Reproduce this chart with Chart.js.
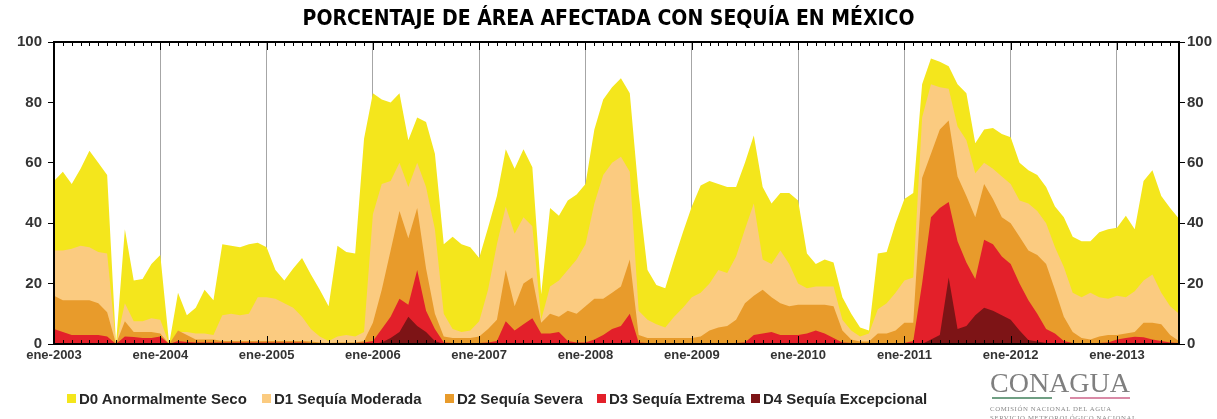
<!DOCTYPE html>
<html>
<head>
<meta charset="utf-8">
<script src="https://cdn.jsdelivr.net/npm/chart.js@4.4.1/dist/chart.umd.min.js"></script>
<style>
  html, body { margin: 0; padding: 0; background: #fff; }
  #wrap { position: relative; width: 1217px; height: 419px; overflow: hidden; }
  #legend { position: absolute; left: 0; top: 389px; width: 1000px; height: 20px;
    font: bold 15px "Liberation Sans", Arial, sans-serif; color: #262626; white-space: nowrap; }
  #legend .item { position: absolute; top: 0; display: flex; align-items: center; height: 18px; }
  #legend .box { width: 9px; height: 9px; margin-right: 3px; }
  #logo { position: absolute; left: 990px; top: 369px; width: 142px; }
  #logo .name { font: 28px "Liberation Serif", "DejaVu Serif", serif; color: #7f7f7f; line-height: 28px; }
  #logo .bars { position: relative; height: 3px; margin-top: 0px; }
  #logo .bars span { position: absolute; top: 0; height: 2px; }
  #logo .sub { font: 6.8px "Liberation Serif", serif; color: #8a8a8a; letter-spacing: 0.6px; line-height: 9px; margin-top: 4px; white-space: nowrap; }
</style>
</head>
<body>
<div id="wrap">
  <canvas id="c" width="1217" height="419"></canvas>
  <div id="legend"></div>
  <div id="logo">
    <div class="name">CONAGUA</div>
    <div class="bars"><span style="left:2px;width:60px;background:#6f9f83"></span><span style="left:80px;width:60px;background:#d98aa6"></span></div>
    <div class="sub">COMISIÓN NACIONAL DEL AGUA</div>
    <div class="sub" style="margin-top:0">SERVICIO METEOROLÓGICO NACIONAL</div>
  </div>
</div>
<script>
const titleText = 'PORCENTAJE DE ÁREA AFECTADA CON SEQUÍA EN MÉXICO';
const monthNames = ['ene','feb','mar','abr','may','jun','jul','ago','sep','oct','nov','dic'];
const nMonths = 128;
const categories = [];
for (let i = 0; i < nMonths; i++) categories.push(monthNames[i % 12] + '-' + (2003 + Math.floor(i / 12)));

const seriesNames = ['D0 Anormalmente Seco', 'D1 Sequía Moderada', 'D2 Sequía Severa', 'D3 Sequía Extrema', 'D4 Sequía Excepcional'];
const seriesColors = ['#F4E61C', '#FBCB80', '#E89B2B', '#E3202A', '#7D1416'];
const yTicks = [0, 20, 40, 60, 80, 100];
const legendLeft = [67, 262, 445, 597, 751];

const d0 = [54,57,53,58,64,60,56,0,38,21,21.5,26.5,29.5,0,17,9.5,12,18,14.5,33,32.5,32,33,33.5,
  32,24.5,21,25,28.5,23,18,12.5,32.5,30.5,30,68,
  83,81,80,83,67.5,75,73.5,63,33,35.5,33,32,
  28.5,38.5,49,64.5,58,64.5,58.5,16.5,45,42.5,47.5,49.5,
  53,71,81,85,88,83,50,24.5,19.5,18.5,28,37,
  45.5,52.5,54,53,52,52,60,69,52,46.5,50,50,
  47.5,30,26.5,28,27,15.5,10,5.5,4.5,30,30.5,40,
  48,50,86,94.5,93.5,92,86,83,66.5,71,71.5,69.5,
  68.5,60,57.5,56,52,45.5,42,35.5,34,34,37,38,
  38.5,42.5,38,54,57.5,49,45,41.5];
const d1 = [31,31,31.5,32.5,32,30.5,30,0,13.5,7.5,7.5,8.5,8,0,4,4,3.5,3.5,3,9.5,10,9.5,10,15.5,
  15.5,15,13.5,12,9,5,2.5,1,2.5,3,2.5,4,
  43,53,54,60,52,60,52,38,10,5,4,4.5,
  7.5,18,33,45.5,36.5,42,39,8,19,21,24.5,28,
  33,46.5,56,60,62,57,11,8,6.5,5.5,9,12,
  15.5,17,20,24.5,23.5,29,38,46.5,28,26.5,31,26.5,
  20,18.5,19,19,19,8,4.5,2.5,3.5,11.5,13.5,17,
  21,22,75,86,85,84.5,72,67.5,56.5,60,58,55.5,
  53,47.5,46.5,44,40,32,25.5,17,15.5,17,15.5,15,
  16,15.5,17.5,21,23,17,12.5,10];
const d2 = [16,14.5,14.5,14.5,14.5,13.5,10.5,0,7.5,4,4,4,3.5,0,4.5,3,1.5,1.5,1.5,1,1,1,1,1,
  1,1,1,1,1,0.8,0.5,0.3,0.5,0.5,0.5,1,
  7,18,31,44,35,45,25,10,2.5,2,2,2,
  2.5,5,8,24.5,12.5,20,22,7,10,9,11,10,
  12.5,15,15,17,19,28,3,2,2,2,2,2,
  2,2.5,4.5,5.5,6,8,13.5,16,18,15.5,13.5,12.5,
  13,13,13,13,12.5,4.5,1.5,0.8,0.8,3.5,3.5,4.5,
  7,7,55,63,71,74,55.5,49,42,53,48,42,
  40,35.5,31,29.5,26.5,18,9,4,2,1.5,2.5,3,
  3,3.5,4,7,7,6.5,3,1];
const d3 = [5,4,3,3,3,3,2.5,0,2.5,2.3,2,2,2.5,0,1,0.7,0.5,0.5,0.5,0.5,0.5,0.5,0.5,0.5,
  0.5,0.5,0.5,0.5,0.5,0.3,0.2,0.2,0.3,0.3,0.3,0.5,
  1,5,9,15,13,24.5,11,5,0.5,0.3,0.3,0.3,
  0.3,0.5,1,7.5,4.5,6.5,8.5,3.5,3.5,4,1,0.5,
  0.5,1.5,3,5,6,10,0.5,0.3,0.3,0.3,0.3,0.3,
  0.3,0.3,0.3,0.3,0.3,0.3,0.5,3,3.5,4,3,3,
  3,3.5,4.5,3.5,2,0.5,0.3,0.2,0.2,0.3,0.3,0.3,
  0.3,1,20,42,45,47,34,27,21.5,34.5,33,29,
  26.5,20,14.5,10,5,3.5,1,0.3,0.3,0.3,0.3,0.5,
  1.5,2,2.4,2.2,1.5,1,0.5,0.3];
const d4 = [0,0,0,0,0,0,0,0,0,0,0,0,0,0,0,0,0,0,0,0,0,0,0,0,
  0,0,0,0,0,0,0,0,0,0,0,0,
  0,0.5,2,4,9,6,4,1,0,0,0,0,
  0,0,0,0,0,0,0,0,0,0,0,0,
  0,0,0,0,0.3,0.5,0,0,0,0,0,0,
  0,0,0,0,0,0,0,0,0,0,0,0,
  0,0,0,0,0,0,0,0,0,0,0,0,
  0,0,0,1.5,3,22,5,6,9.5,12,11,9.5,
  8,4.5,1.3,0.8,0.3,0,0,0,0,0,0,0,
  0,0,0,0,0,0,0,0];
const seriesValues = [d0, d1, d2, d3, d4];

const frameTicks = {
  id: 'frameTicks',
  afterDatasetsDraw(chart) {
    const { ctx, chartArea: a, scales: { x } } = chart;
    ctx.save();
    ctx.strokeStyle = '#000';
    ctx.lineWidth = 1;
    ctx.beginPath();
    for (let i = 0; i < categories.length; i++) {
      const px = Math.round(x.getPixelForValue(i)) + 0.5;
      const len = (i % 12 === 0) ? 8 : 4;
      ctx.moveTo(px, a.bottom); ctx.lineTo(px, a.bottom - len);
      ctx.moveTo(px, a.top); ctx.lineTo(px, a.top + len);
    }
    ctx.stroke();
    ctx.lineWidth = 2;
    ctx.beginPath();
    ctx.moveTo(a.left, a.top); ctx.lineTo(a.right, a.top);
    ctx.moveTo(a.left, a.bottom); ctx.lineTo(a.right, a.bottom);
    ctx.moveTo(a.left, a.top - 1); ctx.lineTo(a.left, a.bottom + 1);
    ctx.moveTo(a.right, a.top - 1); ctx.lineTo(a.right, a.bottom + 1);
    ctx.stroke();
    ctx.restore();
  }
};

const yCommon = {
  min: 0, max: 100,
  afterBuildTicks: s => { s.ticks = yTicks.map(v => ({ value: v })); },
  grid: { drawOnChartArea: false, drawTicks: true, tickLength: 6, color: '#000', lineWidth: 1 },
  border: { display: true, color: '#000', width: 2 },
  ticks: { color: '#333', font: { family: 'Liberation Sans', size: 15, weight: 'bold' } }
};

const chart = new Chart(document.getElementById('c'), {
  type: 'line',
  data: {
    labels: categories,
    datasets: seriesNames.map((name, k) => ({
      label: name,
      data: seriesValues[k],
      backgroundColor: seriesColors[k],
      borderColor: seriesColors[k],
      borderWidth: 0,
      pointRadius: 0,
      tension: 0,
      fill: 'origin',
      order: 4 - k
    }))
  },
  options: {
    responsive: false,
    animation: false,
    layout: { padding: 0 },
    plugins: {
      legend: { display: false },
      tooltip: { enabled: false },
      title: {
        display: true, text: titleText, color: '#000',
        font: { family: "'DejaVu Sans Condensed', 'Liberation Sans Narrow', sans-serif", size: 21, weight: 'bold', lineHeight: 1.2 },
        padding: { top: 7, bottom: 9.8 }
      }
    },
    scales: {
      x: {
        type: 'category',
        offset: false,
        afterFit: s => { s.height = 75; },
        grid: {
          drawTicks: false,
          color: c => (c.index % 12 === 0 && c.index > 0) ? '#a6a6a6' : 'rgba(0,0,0,0)',
          lineWidth: 1
        },
        border: { display: true, color: '#000', width: 2 },
        ticks: {
          autoSkip: false, maxRotation: 0, minRotation: 0, padding: 4,
          color: '#333', font: { family: 'Liberation Sans', size: 13, weight: 'bold' },
          callback: (v, i) => (i % 12 === 0) ? categories[i] : ''
        }
      },
      y: Object.assign({}, yCommon, { position: 'left', afterFit: s => { s.width = 54; }, ticks: Object.assign({}, yCommon.ticks, { padding: 6 }) }),
      y2: Object.assign({}, yCommon, { position: 'right', afterFit: s => { s.width = 38; }, ticks: Object.assign({}, yCommon.ticks, { padding: 2 }) })
    }
  },
  plugins: [frameTicks]
});

const legend = document.getElementById('legend');
chart.data.datasets.forEach((ds, k) => {
  const item = document.createElement('div');
  item.className = 'item';
  item.style.left = legendLeft[k] + 'px';
  const box = document.createElement('span');
  box.className = 'box';
  box.style.background = ds.backgroundColor;
  const txt = document.createElement('span');
  txt.textContent = ds.label;
  item.appendChild(box); item.appendChild(txt);
  legend.appendChild(item);
});
</script>
</body>
</html>
